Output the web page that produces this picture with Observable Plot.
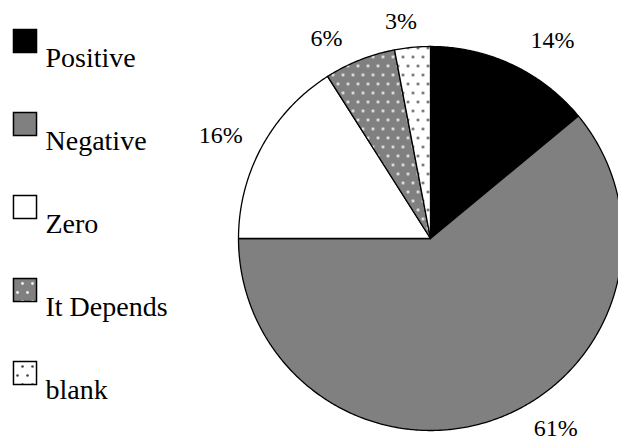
<!DOCTYPE html>
<html><head><meta charset="utf-8">
<script src="https://cdn.jsdelivr.net/npm/d3@7"></script>
<script src="https://cdn.jsdelivr.net/npm/@observablehq/plot@0.6"></script>
<style>
body{margin:0;background:#fff;overflow:hidden}
#chart{width:618px;height:440px;overflow:hidden}
#chart svg, #chart svg text{font-family:"Liberation Serif","Times New Roman",Times,serif !important}
</style>
</head><body><div id="chart"></div>
<script>
// ---- data ----
const categories = ["Positive", "Negative", "Zero", "It Depends", "blank"];
const percents = [14, 61, 16, 6, 3];
const pctLabels = ["14%", "61%", "16%", "6%", "3%"];
const fills = ["#000000", "#808080", "#ffffff", "url(#dotsGray)", "url(#dotsWhite)"];

// ---- layout ----
const W = 618, H = 440, cx = 430, cy = 238, R = 192;
const labelR = 1.1875;
const nudgeX = [25, 48, -10, -20, -8];   // px
const nudgeY = [8, -25, 7, 12, 10];     // px (down positive)
const legendTop = 29, legendStep = 83;

const arcs = d3.pie().sort(null).value(d => d)(percents);
const slices = [];
arcs.forEach((a, i) => {
  const n = Math.max(2, Math.ceil((a.endAngle - a.startAngle) / (Math.PI / 360)));
  slices.push({key: i, x: 0, y: 0, fill: fills[i]});
  for (let k = 0; k <= n; k++) {
    const t = a.startAngle + (a.endAngle - a.startAngle) * k / n;
    slices.push({key: i, x: Math.sin(t), y: Math.cos(t), fill: fills[i]});
  }
});
const labels = arcs.map((a, i) => {
  const m = (a.startAngle + a.endAngle) / 2;
  return {
    text: pctLabels[i],
    x: labelR * Math.sin(m) + nudgeX[i] / R,
    y: labelR * Math.cos(m) - nudgeY[i] / R
  };
});

const legendMarks = [];
categories.forEach((c, i) => {
  legendMarks.push(Plot.dot([c], {
    frameAnchor: "top-left", dx: 24.5, dy: legendTop + 11.5 + legendStep * i,
    symbol: "square", r: 13, fill: fills[i], stroke: "#000", strokeWidth: 1.5
  }));
  legendMarks.push(Plot.text([c], {
    frameAnchor: "top-left", dx: 45, dy: legendTop + 37 + legendStep * i,
    text: d => d, textAnchor: "start", lineAnchor: "bottom", fontSize: 28, fill: "#000"
  }));
});

const plot = Plot.plot({
  width: W, height: H, margin: 0,
  x: {domain: [-1, 1], range: [cx - R, cx + R], axis: null},
  y: {domain: [-1, 1], range: [cy + R, cy - R], axis: null},
  color: {type: "identity"},
  style: {background: "#fff", overflow: "hidden"},
  marks: [
    Plot.line(slices, {x: "x", y: "y", z: "key", fill: "fill", stroke: "#000", strokeWidth: 1.3, curve: "linear-closed"}),
    Plot.text(labels, {x: "x", y: "y", text: "text", fontSize: 24, fill: "#000"}),
    ...legendMarks
  ]
});

const svg = d3.select(plot);
const defs = svg.insert("defs", ":first-child");
function dots(id, bg, dot, r) {
  const p = defs.append("pattern").attr("id", id).attr("patternUnits", "userSpaceOnUse")
    .attr("width", 10).attr("height", 18);
  p.append("rect").attr("width", 10).attr("height", 18).attr("fill", bg);
  [[2.5, 2.5], [7.5, 11.5]].forEach(([x, y]) =>
    p.append("circle").attr("cx", x).attr("cy", y).attr("r", r).attr("fill", dot));
}
dots("dotsGray", "#808080", "#f0f0f0", 1.4);
dots("dotsWhite", "#ffffff", "#404040", 1.3);

document.getElementById("chart").appendChild(plot);
</script>
</body></html>
